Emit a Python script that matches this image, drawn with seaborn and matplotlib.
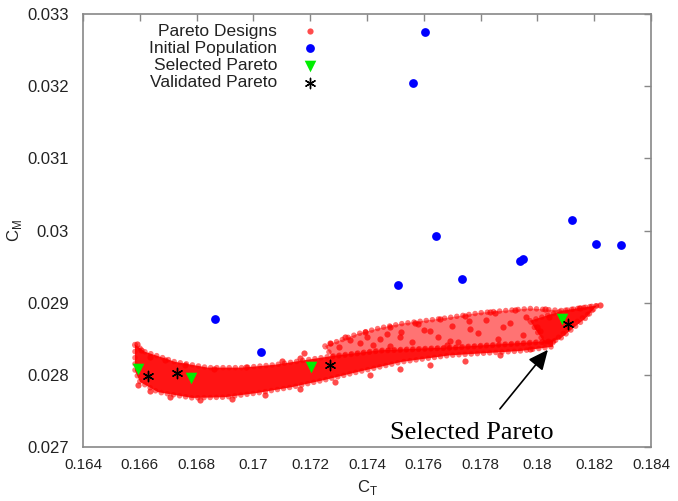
import numpy as np
import pandas as pd
import matplotlib
matplotlib.use("Agg")
import matplotlib.pyplot as plt
import seaborn as sns

# ---------------- data ----------------
# Initial population (blue)
init_ct = [0.17604, 0.17561, 0.17642, 0.17508, 0.17736, 0.17939, 0.17948,
           0.18123, 0.18206, 0.18295, 0.16864, 0.17027]
init_cm = [0.03275, 0.03205, 0.02993, 0.02925, 0.02933, 0.02958, 0.02961,
           0.03015, 0.02981, 0.02980, 0.02877, 0.02832]

# Selected Pareto (green triangles)
sel_ct = [0.16595, 0.16779, 0.17203, 0.18088]
sel_cm = [0.02808, 0.02796, 0.02811, 0.02877]

# Validated Pareto (black asterisks)
val_ct = [0.16630, 0.16730, 0.17270, 0.18107]
val_cm = [0.02799, 0.02803, 0.02814, 0.02870]

# Pareto designs cloud: dense core outline
core_ct = [0.16583, 0.16618, 0.16664, 0.16724, 0.16840, 0.16960, 0.17076,
           0.17192, 0.17277, 0.17446, 0.17692, 0.17939, 0.18055,
           0.18055, 0.17939, 0.17692, 0.17523, 0.17368, 0.17252, 0.17136,
           0.17016, 0.16900, 0.16784, 0.16664, 0.16601, 0.16583]
core_cm = [0.02842, 0.02832, 0.02826, 0.02818, 0.02810, 0.02810, 0.02814,
           0.02821, 0.02826, 0.02834, 0.02838, 0.02844, 0.02847,
           0.02839, 0.02833, 0.02827, 0.02818, 0.02804, 0.02793, 0.02783,
           0.02775, 0.02769, 0.02768, 0.02776, 0.02790, 0.02806]

# Pareto designs cloud: sparser upper region outline
sparse_ct = [0.17252, 0.17368, 0.17446, 0.17523, 0.17682, 0.17798, 0.17974,
             0.18090, 0.18210, 0.18185, 0.18132, 0.18090, 0.18055,
             0.17939, 0.17692, 0.17446, 0.17277]
sparse_cm = [0.02840, 0.02857, 0.02865, 0.02871, 0.02879, 0.02886, 0.02892,
             0.02889, 0.02896, 0.02886, 0.02872, 0.02857, 0.02846,
             0.02843, 0.02837, 0.02833, 0.02825]

# Pareto designs cloud: dense right tip outline
tip_ct = [0.17974, 0.18090, 0.18210, 0.18168, 0.18080, 0.18027]
tip_cm = [0.02875, 0.02889, 0.02896, 0.02878, 0.02850, 0.02843]

# Pareto designs: individual points (fringes and sparse region)
pd_ct = [0.16590, 0.16604, 0.16636, 0.16689, 0.16759, 0.16861, 0.16974,
         0.17101, 0.17164, 0.17178, 0.16594, 0.16636, 0.16706, 0.16812,
         0.16925, 0.17041, 0.17164, 0.17287, 0.17411, 0.17516, 0.17622,
         0.17745, 0.17868, 0.17974, 0.17270, 0.17323, 0.17393, 0.17481,
         0.17569, 0.17657, 0.17745, 0.17833, 0.17921, 0.18027, 0.18150,
         0.18220, 0.17375, 0.17516, 0.17622, 0.17763, 0.17904, 0.17692,
         0.17446, 0.18009,
         0.17300, 0.17340, 0.17420, 0.17470, 0.17560, 0.17600, 0.17650,
         0.17700, 0.17720, 0.17790, 0.17820, 0.17860, 0.17880, 0.17950,
         0.17960, 0.18000, 0.17520, 0.17400, 0.17580, 0.17760, 0.17850,
         0.18040, 0.17680, 0.17480]
pd_cm = [0.028431, 0.028347, 0.028250, 0.028208, 0.028139, 0.028083, 0.028111,
         0.028194, 0.028236, 0.028306, 0.027861, 0.027778, 0.027694, 0.027653,
         0.027667, 0.027722, 0.027806, 0.027903, 0.028000, 0.028083, 0.028139,
         0.028194, 0.028278, 0.028361, 0.028444, 0.028528, 0.028597, 0.028667,
         0.028722, 0.028778, 0.028819, 0.028875, 0.028903, 0.028917, 0.028931,
         0.028972, 0.028444, 0.028528, 0.028611, 0.028639, 0.028722, 0.028472,
         0.028500, 0.028611,
         0.02838, 0.02848, 0.02842, 0.02856, 0.02846, 0.02862, 0.02853,
         0.02868, 0.02845, 0.02858, 0.02876, 0.02850, 0.02866, 0.02855,
         0.02880, 0.02866, 0.02860, 0.02853, 0.02870, 0.02874, 0.02885,
         0.02880, 0.02842, 0.02840]

xticks = [0.164, 0.166, 0.168, 0.17, 0.172, 0.174, 0.176, 0.178, 0.18, 0.182, 0.184]
xtick_labels = ["0.164", "0.166", "0.168", "0.17", "0.172", "0.174", "0.176",
                "0.178", "0.18", "0.182", "0.184"]
yticks = [0.027, 0.028, 0.029, 0.03, 0.031, 0.032, 0.033]
ytick_labels = ["0.027", "0.028", "0.029", "0.03", "0.031", "0.032", "0.033"]

arrow_tip = (0.18037, 0.028347)
arrow_tail = (0.17868, 0.027528)
annot_pos = (0.17770, 0.027194)

# ---------------- plot ----------------
sns.set_theme(style="white")
plt.rcParams["font.family"] = ["Liberation Sans", "DejaVu Sans"]

fig = plt.figure(figsize=(6.78, 5.01), dpi=100)
ax = fig.add_axes([83 / 678, 1 - 447 / 501, 568 / 678, 433 / 501])

red = "#ff0000"
dot_edge = (1.0, 0.0, 0.0, 0.55)
for xs, ys, a in [(sparse_ct, sparse_cm, 0.55), (core_ct, core_cm, 0.92),
                  (tip_ct, tip_cm, 0.85)]:
    patches = ax.fill(xs, ys, facecolor=(1.0, 0.0, 0.0, a), edgecolor=dot_edge,
                      lw=4, linestyle=(0, (0.01, 1.1)), zorder=1)
    for p in patches:
        p.set_capstyle("round")
        p.set_joinstyle("round")

df_pd = pd.DataFrame({"CT": pd_ct, "CM": pd_cm})
sns.scatterplot(data=df_pd, x="CT", y="CM", ax=ax, color=red, s=20,
                alpha=0.7, linewidth=0, label="Pareto Designs", zorder=2)

df_init = pd.DataFrame({"CT": init_ct, "CM": init_cm})
sns.scatterplot(data=df_init, x="CT", y="CM", ax=ax, color="#0000ff", s=40,
                linewidth=0, label="Initial Population", zorder=3)

df_sel = pd.DataFrame({"CT": sel_ct, "CM": sel_cm})
sns.scatterplot(data=df_sel, x="CT", y="CM", ax=ax, color="#00ee00", s=70,
                marker="v", linewidth=0, label="Selected Pareto", zorder=4)

df_val = pd.DataFrame({"CT": val_ct, "CM": val_cm})
sns.scatterplot(data=df_val, x="CT", y="CM", ax=ax, color="black", s=55,
                marker=(6, 2, 0), linewidth=1.0, label="Validated Pareto",
                zorder=5)

ax.set_xlim(0.164, 0.184)
ax.set_ylim(0.027, 0.033)
ax.set_xticks(xticks)
ax.set_xticklabels(xtick_labels)
ax.set_yticks(yticks)
ax.set_yticklabels(ytick_labels)

for sp in ax.spines.values():
    sp.set_color("#888888")
    sp.set_linewidth(1.2)
ax.tick_params(axis="both", which="major", direction="in", length=5,
               width=1, color="#888888", top=True, right=True,
               labelcolor="#222222")
ax.tick_params(axis="x", pad=8, labelsize=11)
ax.tick_params(axis="y", pad=10, labelsize=12)

ax.set_xlabel(r"C$_\mathregular{T}$", fontsize=12, labelpad=4, color="#222222")
ax.set_ylabel(r"C$_\mathregular{M}$", fontsize=12, color="#222222")
ax.yaxis.set_label_coords(-0.103, 0.5)

leg = ax.legend(loc="upper right", bbox_to_anchor=(0.418, 0.978),
                frameon=False, markerfirst=False, fontsize=12.5,
                labelspacing=0.12, handlelength=1.2, handletextpad=1.3,
                borderpad=0, borderaxespad=0)
for t in leg.get_texts():
    t.set_color("#222222")

ax.annotate("", xy=arrow_tip, xytext=arrow_tail,
            arrowprops=dict(arrowstyle="-|>,head_length=0.55,head_width=0.25",
                            color="black", lw=1.2, mutation_scale=22,
                            shrinkA=0, shrinkB=0), zorder=6)
ax.text(annot_pos[0], annot_pos[1], "Selected Pareto", family="Liberation Serif",
        fontsize=19, ha="center", va="center", color="black", zorder=6)

fig.savefig("out.png", dpi=100)
